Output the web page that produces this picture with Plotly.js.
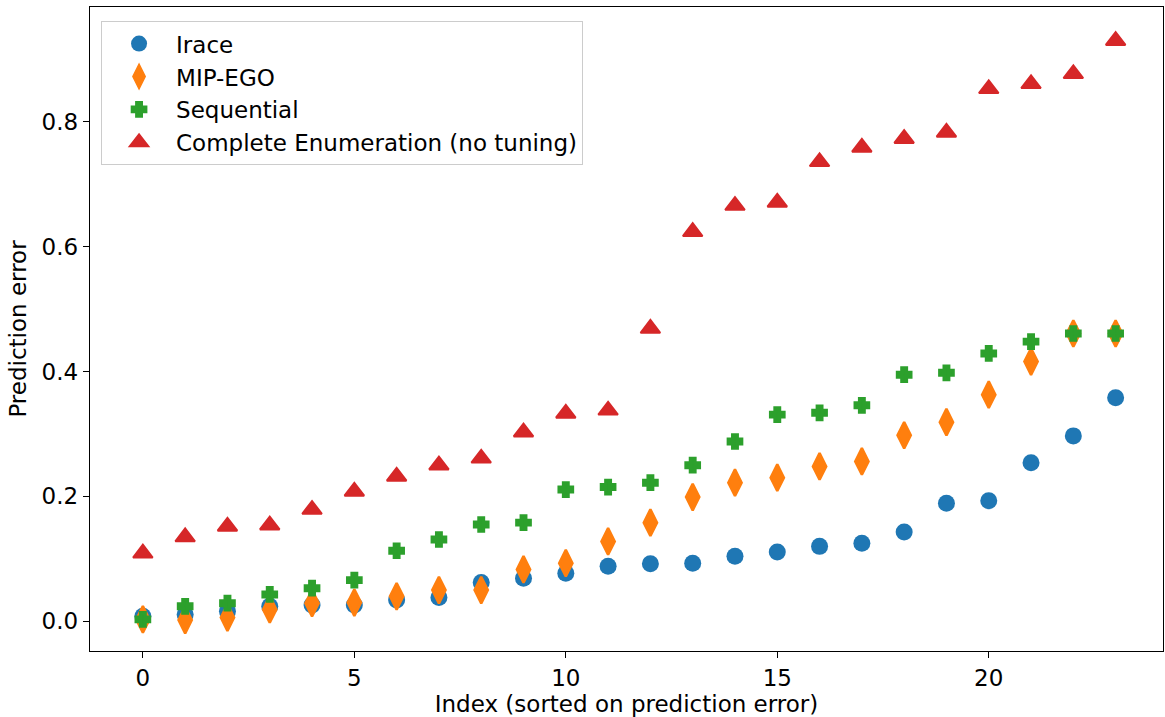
<!DOCTYPE html>
<html>
<head>
<meta charset="utf-8">
<script src="https://cdn.plot.ly/plotly-3.0.1.min.js"></script>
<style>html,body{margin:0;padding:0;background:#fff;}#chart{width:1165px;height:717px;}</style>
</head>
<body>
<div id="chart"></div>
<script>
const index = [0,1,2,3,4,5,6,7,8,9,10,11,12,13,14,15,16,17,18,19,20,21,22,23];
const irace = [0.008,0.011,0.016,0.024,0.026,0.026,0.034,0.038,0.062,0.069,0.077,0.088,0.092,0.093,0.104,0.111,0.120,0.125,0.143,0.189,0.193,0.254,0.297,0.358];
const mipEgo = [0.003,0.002,0.006,0.019,0.029,0.030,0.040,0.050,0.050,0.083,0.093,0.128,0.158,0.199,0.222,0.230,0.248,0.256,0.298,0.319,0.363,0.416,0.461,0.461];
const sequential = [0.003,0.024,0.029,0.043,0.053,0.066,0.113,0.131,0.155,0.158,0.211,0.215,0.222,0.250,0.288,0.331,0.334,0.346,0.395,0.398,0.429,0.448,0.461,0.461];
const completeEnum = [0.109,0.135,0.152,0.154,0.179,0.208,0.232,0.250,0.261,0.303,0.333,0.338,0.469,0.624,0.666,0.671,0.736,0.759,0.773,0.783,0.853,0.861,0.877,0.930];
const seriesNames = ['Irace','MIP-EGO','Sequential','Complete Enumeration (no tuning)'];
const xTickVals = [0,5,10,15,20];
const yTickVals = [0.0,0.2,0.4,0.6,0.8];

const FONT = 'DejaVu Sans, Liberation Sans, sans-serif';
function tr(y, name, color, symbol, size, lw) {
  return {x: index, y: y, name: name, type: 'scatter', mode: 'markers',
    marker: {color: color, symbol: symbol, size: size, line: {width: lw, color: color}}};
}
const data = [
  tr(irace, seriesNames[0], '#1f77b4', 'circle', 17, 0),
  tr(mipEgo, seriesNames[1], '#ff7f0e', 'diamond-tall', 19, 2.5),
  tr(sequential, seriesNames[2], '#2ca02c', 'cross', 11, 3.5),
  tr(completeEnum, seriesNames[3], '#d62728', 'triangle-up', 17, 2)
];
const layout = {
  width: 1165, height: 717,
  margin: {l: 90, r: 2, t: 7, b: 66},
  paper_bgcolor: '#fff', plot_bgcolor: '#fff',
  font: {family: FONT, size: 23, color: '#000'},
  showlegend: true,
  legend: {x: 0.0103, y: 0.978, xanchor: 'left', yanchor: 'top',
    bgcolor: 'rgba(255,255,255,0.8)', bordercolor: '#cccccc', borderwidth: 1,
    font: {family: FONT, size: 23, color: '#000'}, itemwidth: 64},
  xaxis: {range: [-1.25, 24.12], tickvals: xTickVals, ticktext: xTickVals.map(String),
    showgrid: false, zeroline: false, showline: true, mirror: true,
    linecolor: '#000', linewidth: 1.3, ticks: 'outside', ticklen: 6, tickwidth: 1.2, tickcolor: '#000',
    title: {text: 'Index (sorted on prediction error)', font: {size: 23}, standoff: 8}},
  yaxis: {range: [-0.0476, 0.984], tickvals: yTickVals, ticktext: yTickVals.map(v => v.toFixed(1)),
    showgrid: false, zeroline: false, showline: true, mirror: true,
    linecolor: '#000', linewidth: 1.3, ticks: 'outside', ticklen: 6, tickwidth: 1.2, tickcolor: '#000',
    title: {text: 'Prediction error', font: {size: 23}, standoff: 8}}
};
Plotly.newPlot('chart', data, layout, {displayModeBar: false, staticPlot: true});
</script>
</body>
</html>
